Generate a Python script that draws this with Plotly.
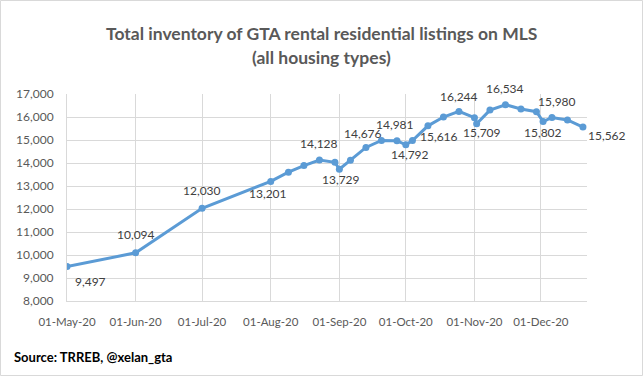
import plotly.graph_objects as go

dates = ['2020-05-01', '2020-06-01', '2020-07-01', '2020-08-01', '2020-08-09', '2020-08-16',
         '2020-08-23', '2020-08-30', '2020-09-01', '2020-09-06', '2020-09-13', '2020-09-20',
         '2020-09-27', '2020-10-01', '2020-10-04', '2020-10-11', '2020-10-18', '2020-10-25',
         '2020-11-01', '2020-11-02', '2020-11-08', '2020-11-15', '2020-11-22', '2020-11-29',
         '2020-12-02', '2020-12-06', '2020-12-13', '2020-12-20']
values = [9497, 10094, 12030, 13201, 13600, 13890, 14128, 14030, 13729, 14115, 14676, 14981,
          14970, 14792, 14975, 15616, 16000, 16244, 15970, 15709, 16300, 16534, 16350, 16230,
          15802, 15980, 15870, 15562]
labeled_idx = [0, 1, 2, 3, 6, 8, 10, 11, 13, 15, 17, 19, 21, 24, 25, 27]
tick_dates = ['2020-05-01', '2020-06-01', '2020-07-01', '2020-08-01', '2020-09-01',
              '2020-10-01', '2020-11-01', '2020-12-01']
tick_labels = ['01-May-20', '01-Jun-20', '01-Jul-20', '01-Aug-20', '01-Sep-20',
               '01-Oct-20', '01-Nov-20', '01-Dec-20']

# label offsets in screen pixels (dx right, dy down)
label_offsets = {0: (23, 15), 1: (0, -18), 2: (0, -18), 3: (-3, 12), 6: (0, -17), 8: (2, 10),
                 10: (-3, -14), 11: (14, -16), 13: (4, 10), 15: (11, 11), 17: (0, -15),
                 19: (5, 9), 21: (0, -16), 24: (0, 11), 25: (5, -16), 27: (24, 8)}

W, H = 644, 377
L, R, T, B = 67, 57, 94, 76
PW, PH = W - L - R, H - T - B

def px(x):
    return (x - L) / PW

def py(y):
    return (H - B - y) / PH

FONT = 'Lato'
BLUE = '#5B9BD5'
GRID = '#D9D9D9'

fig = go.Figure()
fig.add_trace(go.Scatter(
    x=dates, y=values, mode='lines+markers',
    line=dict(color=BLUE, width=3),
    marker=dict(color=BLUE, size=7),
    hoverinfo='x+y', showlegend=False))

annotations = []
for i in labeled_idx:
    dx, dy = label_offsets[i]
    annotations.append(dict(x=dates[i], y=values[i], xref='x', yref='y',
                            text=f'{values[i]:,}', showarrow=False,
                            xshift=dx, yshift=-dy,
                            font=dict(family=FONT, size=12, color='#404040')))

annotations.append(dict(x=px(321), y=py(33), xref='paper', yref='paper',
                        text='<b>Total inventory of GTA rental residential listings on MLS</b>',
                        showarrow=False, xanchor='center', yanchor='middle',
                        font=dict(family=FONT, size=17.5, color='#595959')))
annotations.append(dict(x=px(321), y=py(57), xref='paper', yref='paper',
                        text='<b>(all housing types)</b>',
                        showarrow=False, xanchor='center', yanchor='middle',
                        font=dict(family=FONT, size=17.5, color='#595959')))
annotations.append(dict(x=px(12), y=py(357), xref='paper', yref='paper',
                        text='<b>Source: TRREB, @xelan_gta</b>',
                        showarrow=False, xanchor='left', yanchor='middle',
                        font=dict(family=FONT, size=13, color='#000000')))

fig.update_layout(
    width=W, height=H,
    margin=dict(l=L, r=R, t=T, b=B, pad=0),
    paper_bgcolor='white', plot_bgcolor='white',
    annotations=annotations,
    shapes=[dict(type='rect', xref='paper', yref='paper',
                 x0=px(0.5), x1=px(642.5), y0=py(375.5), y1=py(0.5),
                 line=dict(color=GRID, width=1), fillcolor='rgba(0,0,0,0)', layer='below')],
    xaxis=dict(type='date', range=['2020-05-01', '2020-12-21 20:00'],
               tickvals=tick_dates, ticktext=tick_labels,
               showgrid=True, gridcolor=GRID, gridwidth=1,
               showline=True, linecolor=GRID, linewidth=1,
               ticks='', ticklabelstandoff=10,
               tickfont=dict(family=FONT, size=11.5, color='#595959'),
               zeroline=False, fixedrange=True),
    yaxis=dict(range=[8000, 17000], dtick=1000, tickformat=',',
               showgrid=True, gridcolor=GRID, gridwidth=1,
               showline=True, linecolor=GRID, linewidth=1,
               ticks='', ticklabelstandoff=10,
               tickfont=dict(family=FONT, size=12, color='#595959'),
               zeroline=False, fixedrange=True),
)

fig.write_html('out.html', config={'displayModeBar': False},
               post_script="document.body.style.margin='0';document.body.style.padding='0';")
